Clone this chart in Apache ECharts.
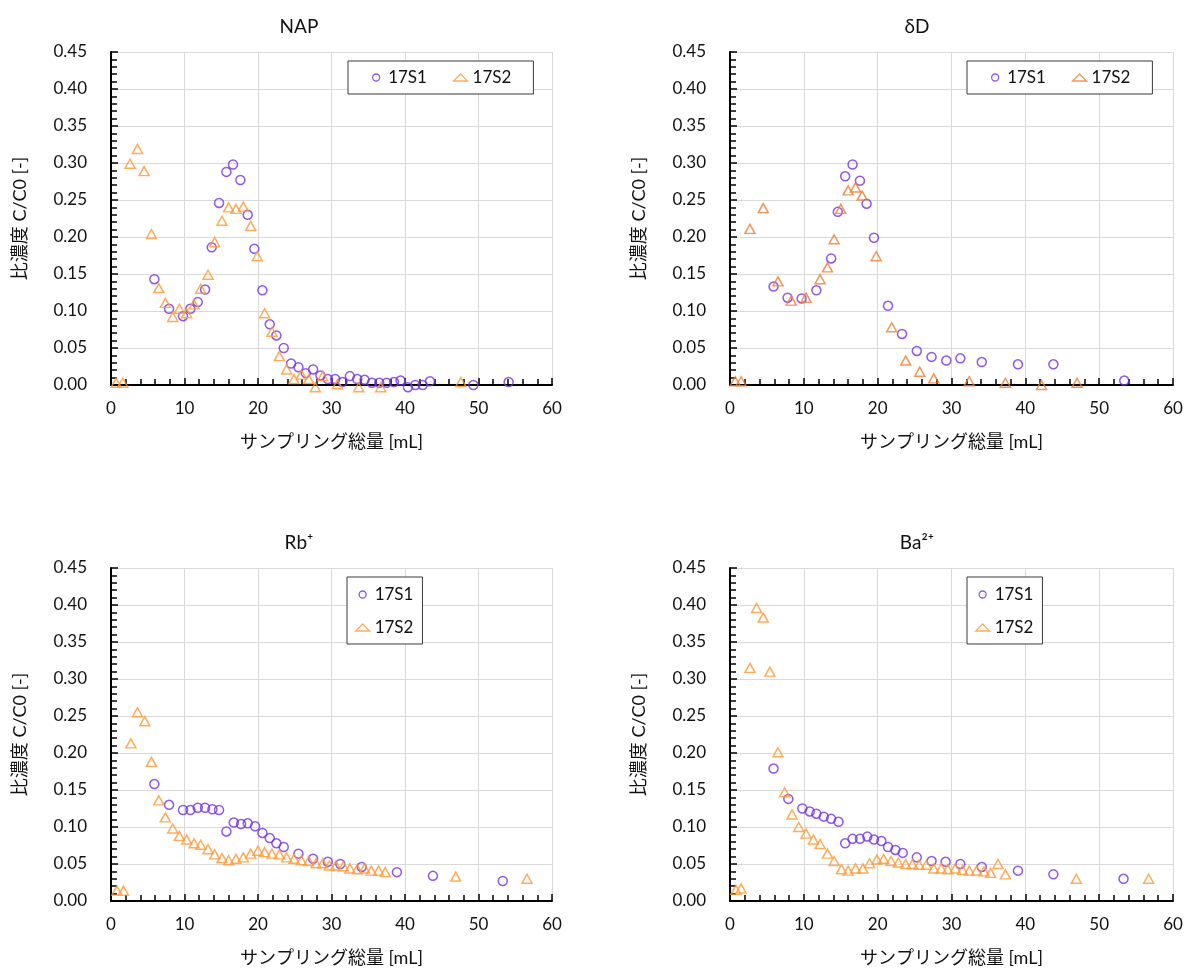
<!DOCTYPE html>
<html><head><meta charset="utf-8">
<script src="https://cdn.jsdelivr.net/npm/echarts@6/dist/echarts.min.js"></script>
<style>html,body{margin:0;padding:0;background:#fff}#c{width:1192px;height:970px}</style>
</head><body><div id="c"></div>
<script>
// ---- Data ----
const panelTitles = ['NAP', 'δD', 'Rb⁺', 'Ba²⁺'];
const seriesNames = ['17S1', '17S2'];
const xTicks = [0, 10, 20, 30, 40, 50, 60];
const yTicks = [0, 0.05, 0.10, 0.15, 0.20, 0.25, 0.30, 0.35, 0.40, 0.45];

// NAP
const napS1X = [5.9,7.9,9.8,10.8,11.8,12.8,13.7,14.7,15.7,16.6,17.6,18.6,19.5,20.6,21.6,22.5,23.5,24.5,25.5,26.5,27.5,28.5,29.5,30.5,31.5,32.5,33.5,34.5,35.5,36.5,37.5,38.5,39.4,40.4,41.4,42.4,43.4,49.3,54.1];
const napS1Y = [0.143,0.103,0.093,0.103,0.112,0.129,0.186,0.246,0.288,0.298,0.277,0.230,0.184,0.128,0.082,0.067,0.050,0.029,0.024,0.016,0.021,0.013,0.008,0.008,0.004,0.012,0.008,0.007,0.003,0.003,0.003,0.004,0.006,-0.003,0.000,0.000,0.005,0.000,0.004];
const napS2X = [0.7,1.6,2.6,3.6,4.5,5.5,6.5,7.4,8.4,9.3,10.3,11.3,12.2,13.2,14.1,15.1,16.0,17.0,18.0,19.0,19.9,20.9,21.9,22.9,23.9,24.9,25.9,26.9,27.8,28.8,30.8,33.7,36.7,47.6];
const napS2Y = [0.003,0.003,0.299,0.319,0.289,0.204,0.131,0.111,0.092,0.103,0.097,0.109,0.130,0.149,0.193,0.222,0.240,0.238,0.241,0.215,0.174,0.097,0.072,0.039,0.021,0.008,0.014,0.008,-0.003,0.012,0.001,-0.003,-0.003,0.004];

// dD
const ddS1X = [5.9,7.8,9.7,11.7,13.7,14.6,15.6,16.6,17.6,18.5,19.5,21.4,23.3,25.3,27.3,29.3,31.2,34.1,39.0,43.8,53.4];
const ddS1Y = [0.133,0.118,0.117,0.128,0.171,0.234,0.282,0.298,0.276,0.245,0.199,0.107,0.069,0.046,0.038,0.033,0.036,0.031,0.028,0.028,0.006];
const ddS2X = [0.7,1.5,2.7,4.5,6.5,8.3,10.3,12.2,13.2,14.1,15.0,16.0,17.0,17.9,19.8,21.9,23.8,25.7,27.6,32.4,37.3,42.2,47.0];
const ddS2Y = [0.005,0.005,0.211,0.239,0.140,0.114,0.118,0.143,0.159,0.197,0.238,0.263,0.267,0.256,0.174,0.078,0.033,0.018,0.009,0.005,0.003,0.000,0.003];

// Rb+
const rbS1X = [5.9,7.9,9.8,10.8,11.8,12.8,13.8,14.7,15.7,16.7,17.7,18.6,19.6,20.6,21.6,22.5,23.5,25.5,27.5,29.5,31.2,34.1,38.9,43.8,53.3];
const rbS1Y = [0.158,0.130,0.123,0.123,0.126,0.126,0.124,0.123,0.094,0.106,0.104,0.105,0.101,0.092,0.085,0.078,0.073,0.064,0.057,0.053,0.050,0.046,0.039,0.034,0.027];
const rbS2X = [0.8,1.7,2.7,3.6,4.6,5.5,6.5,7.4,8.4,9.3,10.3,11.3,12.2,13.2,14.1,15.1,16.0,17.0,18.0,19.0,20.0,20.9,21.9,22.9,23.9,24.9,25.9,26.9,27.9,28.8,29.7,30.6,31.6,32.5,33.5,34.5,35.4,36.4,37.3,46.9,56.6];
const rbS2Y = [0.014,0.014,0.213,0.255,0.243,0.188,0.136,0.113,0.098,0.088,0.083,0.078,0.076,0.070,0.063,0.058,0.055,0.057,0.059,0.064,0.068,0.066,0.064,0.063,0.059,0.057,0.055,0.054,0.051,0.051,0.048,0.048,0.047,0.044,0.043,0.044,0.041,0.041,0.039,0.033,0.030];

// Ba2+
const baS1X = [5.9,7.9,9.8,10.8,11.7,12.7,13.7,14.7,15.6,16.6,17.6,18.6,19.5,20.5,21.4,22.4,23.4,25.3,27.3,29.2,31.2,34.1,39.0,43.8,53.3];
const baS1Y = [0.179,0.138,0.125,0.121,0.118,0.114,0.111,0.107,0.078,0.084,0.084,0.087,0.083,0.081,0.073,0.069,0.065,0.059,0.054,0.053,0.050,0.046,0.041,0.036,0.030];
const baS2X = [0.8,1.5,2.7,3.6,4.5,5.4,6.5,7.4,8.4,9.3,10.3,11.3,12.2,13.2,14.1,15.1,16.0,17.0,18.0,18.9,19.9,20.8,21.8,22.8,23.8,24.7,25.6,26.6,27.6,28.6,29.5,30.5,31.5,32.4,33.4,34.4,35.3,36.3,37.3,46.9,56.7];
const baS2Y = [0.015,0.017,0.315,0.396,0.383,0.310,0.201,0.147,0.117,0.100,0.091,0.083,0.077,0.064,0.054,0.043,0.041,0.044,0.044,0.051,0.056,0.057,0.054,0.052,0.050,0.050,0.049,0.049,0.044,0.044,0.043,0.044,0.042,0.041,0.041,0.040,0.038,0.050,0.036,0.030,0.030];

// ---- Chart ----
const FF = 'Lato, "Noto Sans CJK JP", sans-serif';
const TXT = '#111111';
const PURPLE = '#7430E0';
const ORANGE = '#FF9933';
const ORANGE2 = '#EE7D31';
const pts = (xs, ys) => xs.map((x, i) => [x, ys[i]]);

const data = [
  [pts(napS1X, napS1Y), pts(napS2X, napS2Y)],
  [pts(ddS1X, ddS1Y), pts(ddS2X, ddS2Y)],
  [pts(rbS1X, rbS1Y), pts(rbS2X, rbS2Y)],
  [pts(baS1X, baS1Y), pts(baS2X, baS2Y)]
];
const grids = [
  {left: 111, top: 52, width: 441, height: 333},
  {left: 730, top: 52, width: 443, height: 333},
  {left: 111, top: 568, width: 441, height: 333},
  {left: 730, top: 568, width: 443, height: 333}
];
const titleX = [294, 912, 294, 912];
const titleY = [12, 12, 528, 528];
const triColor = [ORANGE, ORANGE2, ORANGE, ORANGE];

const option = {
  backgroundColor: '#fff',
  animation: false,
  title: panelTitles.map((t, i) => ({
    text: t, left: titleX[i], top: titleY[i], textAlign: 'center',
    textStyle: {fontSize: 19, fontWeight: 'normal', fontFamily: FF, color: TXT}
  })),
  grid: grids,
  xAxis: grids.map((g, i) => ({
    type: 'value', gridIndex: i, min: xTicks[0], max: xTicks[xTicks.length - 1], interval: 10,
    name: 'サンプリング総量 [mL]', nameLocation: 'middle', nameGap: 48,
    nameTextStyle: {fontSize: 18, fontFamily: FF, color: TXT},
    axisLine: {show: true, onZero: false, lineStyle: {color: '#000', width: 2}},
    axisTick: {show: true, inside: true, length: 7, lineStyle: {color: '#000', width: 1.5}},
    minorTick: {show: true, splitNumber: 5, length: 6, lineStyle: {color: '#000', width: 1.5}},
    axisLabel: {show: true, margin: 15, fontSize: 17, fontFamily: FF, color: TXT, showMinLabel: true, showMaxLabel: true, hideOverlap: false},
    splitLine: {show: true, lineStyle: {color: '#d9d9d9', width: 1}},
    minorSplitLine: {show: false}
  })),
  yAxis: grids.map((g, i) => ({
    type: 'value', gridIndex: i, min: yTicks[0], max: yTicks[yTicks.length - 1], interval: 0.05,
    name: '比濃度 C/C0 [-]', nameLocation: 'middle', nameGap: 82, nameRotate: 90,
    nameTextStyle: {fontSize: 18, fontFamily: FF, color: TXT},
    axisLine: {show: true, onZero: false, lineStyle: {color: '#000', width: 2}},
    axisTick: {show: true, inside: true, length: 7, lineStyle: {color: '#000', width: 1.5}},
    minorTick: {show: true, splitNumber: 5, length: 6, lineStyle: {color: '#000', width: 1.5}},
    axisLabel: {show: true, margin: 24, fontSize: 17, fontFamily: FF, color: TXT,
      formatter: v => v.toFixed(2), showMinLabel: true, showMaxLabel: true, hideOverlap: false},
    splitLine: {show: true, lineStyle: {color: '#d9d9d9', width: 1}},
    minorSplitLine: {show: false}
  })),
  legend: [0, 1, 2, 3].map(i => {
    const horiz = i < 2;
    return {
      orient: horiz ? 'horizontal' : 'vertical',
      left: [348, 967, 347, 967][i], top: horiz ? 61 : 577,
      padding: horiz ? [8, 22, 8, 24] : [9, 9, 8, 8],
      itemGap: horiz ? 26 : 16,
      itemWidth: 14, itemHeight: 7,
      borderColor: '#3a3a3a', borderWidth: 1, backgroundColor: '#fff',
      selectedMode: false,
      textStyle: {fontSize: 17, fontFamily: FF, color: TXT},
      data: [
        {name: seriesNames[0], icon: 'circle', itemStyle: {color: 'rgba(255,255,255,0)', borderColor: PURPLE, borderWidth: 1.3}},
        {name: seriesNames[1], icon: 'triangle', itemStyle: {color: 'rgba(255,255,255,0)', borderColor: triColor[i], borderWidth: 1.3}}
      ]
    };
  }),
  series: [0, 1, 2, 3].flatMap(i => [
    {
      type: 'scatter', name: seriesNames[0], xAxisIndex: i, yAxisIndex: i, clip: false,
      symbol: 'circle', symbolSize: 9,
      itemStyle: {color: 'rgba(255,255,255,0)', borderColor: PURPLE, borderWidth: 1.5},
      emphasis: {disabled: true},
      data: data[i][0]
    },
    {
      type: 'scatter', name: seriesNames[1], xAxisIndex: i, yAxisIndex: i, clip: false,
      symbol: 'triangle', symbolSize: [10, 9],
      itemStyle: {color: 'rgba(255,255,255,0)', borderColor: triColor[i], borderWidth: 1.5},
      emphasis: {disabled: true},
      data: data[i][1]
    }
  ])
};

const chart = echarts.init(document.getElementById('c'), null, {renderer: 'canvas'});
chart.setOption(option);
</script>
</body></html>
